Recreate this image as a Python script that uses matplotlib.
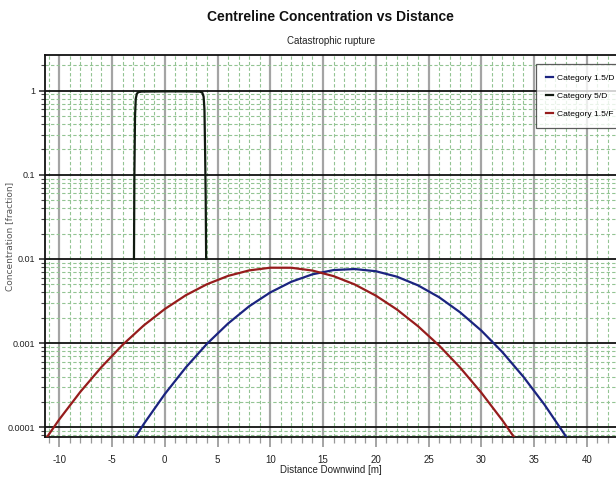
import matplotlib
matplotlib.use("Agg")
import matplotlib.pyplot as plt
from matplotlib.ticker import FixedLocator, MultipleLocator, NullFormatter

# distance downwind [m]
x_15d = [-4, -2, 0, 2, 4, 6, 8, 10, 12, 14, 16, 18, 20, 22, 24, 26, 28, 30, 32, 34, 36, 38, 40]
c_15d = [4.39e-5, 1.09e-4, 2.48e-4, 5.15e-4, 9.82e-4, 1.71e-3, 2.74e-3, 4.00e-3, 5.36e-3,
         6.57e-3, 7.38e-3, 7.59e-3, 7.15e-3, 6.16e-3, 4.86e-3, 3.51e-3, 2.32e-3, 1.41e-3,
         7.82e-4, 3.97e-4, 1.85e-4, 7.87e-5, 3.07e-5]

x_5d = [-2.92, -2.88, -2.82, -2.75, -2.65, -2.5, -2.2, 0, 2, 3.3, 3.55, 3.68, 3.76, 3.82, 3.88, 3.92]
c_5d = [0.01, 0.1, 0.5, 0.8, 0.92, 0.96, 0.975, 0.98, 0.98, 0.975, 0.95, 0.85, 0.6, 0.2, 0.05, 0.01]

x_15f = [-12, -10, -8, -6, -4, -2, 0, 2, 4, 6, 8, 10, 12, 14, 16, 18, 20, 22, 24, 26, 28, 30, 32, 34]
c_15f = [5.40e-5, 1.24e-4, 2.64e-4, 5.20e-4, 9.53e-4, 1.62e-3, 2.54e-3, 3.71e-3, 5.01e-3,
         6.29e-3, 7.31e-3, 7.87e-3, 7.86e-3, 7.28e-3, 6.25e-3, 4.98e-3, 3.67e-3, 2.51e-3,
         1.59e-3, 9.37e-4, 5.11e-4, 2.58e-4, 1.21e-4, 5.25e-5]

series_names = ["Category 1.5/D", "Category 5/D", "Category 1.5/F"]
series_colors = ["#1b2480", "#101a10", "#961c1c"]

y_ticks = [1e-4, 1e-3, 1e-2, 1e-1, 1]
y_ticklabels = ["0.0001", "0.001", "0.01", "0.1", "1"]

narrow = ["Liberation Sans", "DejaVu Sans"]
plt.rcParams["axes.unicode_minus"] = False

fig = plt.figure(figsize=(6.16, 4.83), dpi=100)
ax = fig.add_axes([0.0726, 0.0959, 0.9274, 0.7896])

ax.plot(x_15d, c_15d, color=series_colors[0], lw=1.6, label=series_names[0], zorder=5)
ax.plot(x_5d, c_5d, color=series_colors[1], lw=1.6, label=series_names[1], zorder=5)
ax.plot(x_15f, c_15f, color=series_colors[2], lw=1.6, label=series_names[2], zorder=5)

ax.set_yscale("log")
ax.set_xlim(-11.38, 42.77)
ax.set_ylim(7.73e-5, 2.63)

ax.xaxis.set_major_locator(MultipleLocator(5))
ax.xaxis.set_minor_locator(MultipleLocator(1))
ax.yaxis.set_major_locator(FixedLocator(y_ticks))
ax.set_yticklabels(y_ticklabels)
ax.yaxis.set_minor_formatter(NullFormatter())

ax.grid(which="minor", axis="both", color="#93c493", lw=0.8, ls=(0, (3, 2)), zorder=1)
ax.grid(which="major", axis="x", color="#a4a4a4", lw=1.6, ls="-", zorder=2)
ax.grid(which="major", axis="y", color="#111111", lw=1.3, ls="-", zorder=2)
ax.set_axisbelow(True)

for side in ["left", "bottom", "top"]:
    ax.spines[side].set_color("#111111")
    ax.spines[side].set_linewidth(1.3)
ax.spines["right"].set_visible(False)

ax.tick_params(axis="x", which="major", length=7, width=1.4, color="#a4a4a4", pad=6)
ax.tick_params(axis="x", which="minor", length=4, width=0.9, color="#999999")
ax.tick_params(axis="y", which="major", length=4, width=1.1, color="#222222", pad=3)
ax.tick_params(axis="y", which="minor", length=3, width=0.8, color="#444444")
for lbl in ax.get_xticklabels():
    lbl.set_family(narrow)
    lbl.set_fontsize(7)
    lbl.set_color("#222222")
for lbl in ax.get_yticklabels():
    lbl.set_family(narrow)
    lbl.set_fontsize(6.5)
    lbl.set_color("#222222")

fig.text(0.537, 0.965, "Centreline Concentration vs Distance", ha="center", va="center",
         fontsize=10, fontweight="bold", family=narrow, color="#111111")
fig.text(0.537, 0.915, "Catastrophic rupture", ha="center", va="center",
         fontsize=7, family=narrow, color="#222222")
fig.text(0.537, 0.027, "Distance Downwind [m]", ha="center", va="center",
         fontsize=7, family=narrow, color="#222222")
fig.text(0.016, 0.51, "Concentration [fraction]", ha="center", va="center",
         rotation=90, fontsize=6.5, color="#555555")

leg = ax.legend(loc="upper left", bbox_to_anchor=(0.870, 0.867),
                bbox_transform=fig.transFigure, frameon=True, fancybox=False,
                handlelength=0.8, handletextpad=0.5, borderpad=1.2, borderaxespad=0,
                labelspacing=1.15, prop={"family": narrow, "size": 6.1})
leg.get_frame().set_edgecolor("#333333")
leg.get_frame().set_linewidth(0.9)
leg.set_zorder(10)

fig.savefig("out.png", dpi=100)
